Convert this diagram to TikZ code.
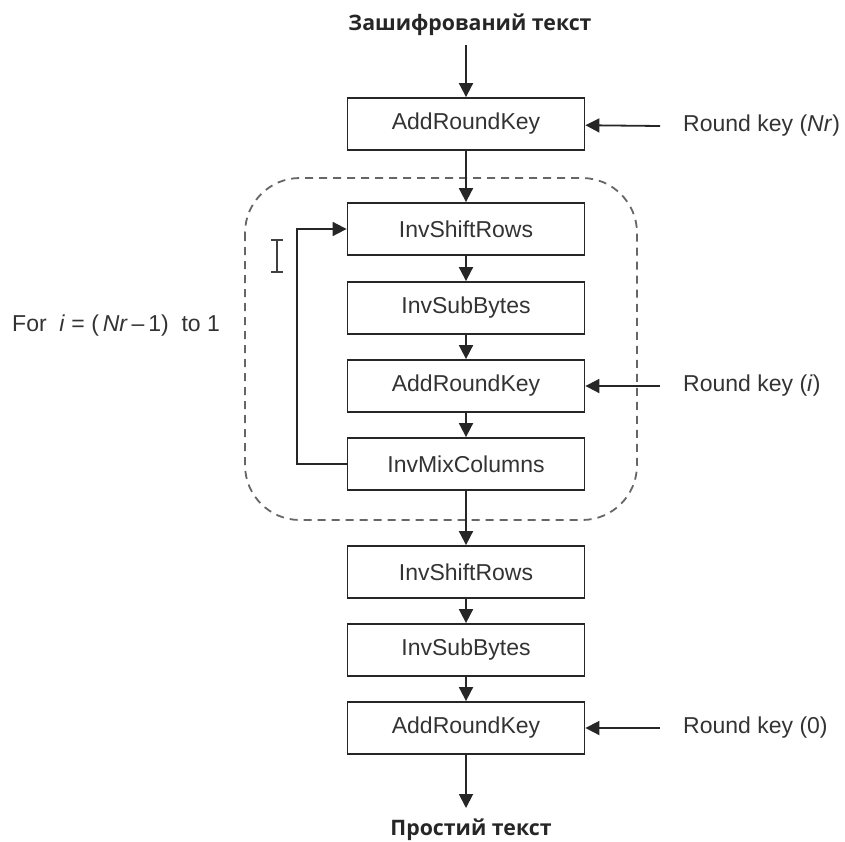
\documentclass[tikz,border=0pt]{standalone}
\usepackage{fontspec}
\setmainfont{Liberation Sans}
\newfontfamily\titlefont{Open Sans}
\usetikzlibrary{arrows.meta}
\begin{document}
\begin{tikzpicture}[x=1pt,y=-1pt,
  stepbox/.style={draw=black!85,line width=1.8pt,minimum width=237pt,minimum height=52pt,inner sep=0pt,font=\fontsize{23}{26}\selectfont,text=black!80},
  flow/.style={draw=black!85,line width=1.8pt,-{Triangle[length=14pt,width=14pt]}},
  lbl/.style={font=\fontsize{23}{26}\selectfont,text=black!80,anchor=west,inner sep=0pt},
  ttl/.style={font=\titlefont\bfseries\fontsize{21.3}{25}\selectfont,text=black!85}]
\useasboundingbox (0,0) rectangle (845,841);
\node[ttl] (cipher) at (470,25) {Зашифрований текст};
\node[stepbox] (ark1) at (466,124) {AddRoundKey};
\node[stepbox] (isr1) at (466,229) {InvShiftRows};
\node[stepbox] (isb1) at (466,308) {InvSubBytes};
\node[stepbox] (ark2) at (466,386) {AddRoundKey};
\node[stepbox] (imc) at (466,464) {InvMixColumns};
\node[stepbox] (isr2) at (466,572) {InvShiftRows};
\node[stepbox] (isb2) at (466,650) {InvSubBytes};
\node[stepbox] (ark3) at (466,728) {AddRoundKey};
\node[ttl] (plain) at (471,830) {Простий текст};
\node[lbl] (rk1) at (683,126) {Round key (\textit{Nr})};
\node[lbl] (rk2) at (683,386) {Round key (\textit{i})};
\node[lbl] (rk3) at (683,728) {Round key (0)};
\node[lbl] (loop) at (12,326) {For\ \ \textit{i} = (\,\textit{Nr}\,–\,1)\ \ to 1};
\coordinate (k1) at (660,126);
\coordinate (k2) at (660,386);
\coordinate (k3) at (660,728);
\coordinate (c1) at (297,464);
\coordinate (c2) at (297,229);
\coordinate (ctop) at (466,45);
\coordinate (cbot) at (466,808);
\draw[gray!80!black,line width=1.8pt,dash pattern=on 8pt off 6pt,rounded corners=55pt] (245,178) rectangle (637,520);
\draw[flow] (ctop) -- (ark1);
\draw[flow] (ark1) -- (isr1);
\draw[flow] (isr1) -- (isb1);
\draw[flow] (isb1) -- (ark2);
\draw[flow] (ark2) -- (imc);
\draw[flow] (imc) -- (isr2);
\draw[flow] (isr2) -- (isb2);
\draw[flow] (isb2) -- (ark3);
\draw[flow] (ark3) -- (cbot);
\draw[flow] (k1) -- (ark1);
\draw[flow] (k2) -- (ark2);
\draw[flow] (k3) -- (ark3);
\draw[flow] (imc.west) -- (c1) -- (c2) -- (isr1.west);
\draw[black!75,line width=1.2pt] (271,240) -- (283,240) (277,240) -- (277,272) (271,272) -- (283,272);
\end{tikzpicture}
\end{document}
